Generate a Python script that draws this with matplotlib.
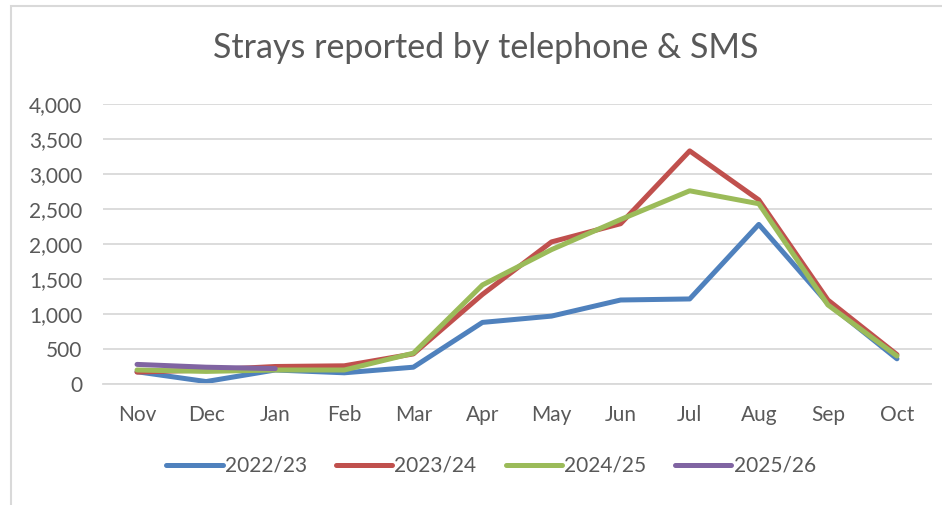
import matplotlib
matplotlib.use("Agg")
import matplotlib.pyplot as plt
from matplotlib.patches import Rectangle
from matplotlib.ticker import FuncFormatter

months = ["Nov", "Dec", "Jan", "Feb", "Mar", "Apr", "May", "Jun", "Jul", "Aug", "Sep", "Oct"]
s2022 = [175, 35, 200, 160, 240, 880, 970, 1200, 1215, 2280, 1150, 360]
s2023 = [170, 200, 250, 260, 430, 1280, 2030, 2290, 3330, 2630, 1200, 420]
s2024 = [200, 180, 200, 200, 440, 1415, 1920, 2350, 2760, 2575, 1130, 400]
s2025 = [280, 240, 220]
series = [("2022/23", s2022, "#4F81BD"),
          ("2023/24", s2023, "#C0504D"),
          ("2024/25", s2024, "#9BBB59"),
          ("2025/26", s2025, "#8064A2")]

plt.rcParams['font.family'] = ['Lato', 'DejaVu Sans']
txt = "#595959"
grid = "#D9D9D9"

fig = plt.figure(figsize=(9.42, 5.05), dpi=100)
# chart frame (only left and top edges fall inside the picture)
fig.patches.append(Rectangle((11/942, -0.1), 1.0, 1.1 - 6/505, transform=fig.transFigure,
                             fill=False, edgecolor="#D9D9D9", linewidth=1.5))

ax = fig.add_axes([102.5/942, 1 - 384/505, 829/942, 280/505])
for label, vals, col in series:
    ax.plot(range(len(vals)), vals, color=col, linewidth=3.6, label=label,
            solid_capstyle="round", solid_joinstyle="round")

ax.set_xlim(-0.5, 11.5)
ax.set_ylim(0, 4000)
ax.set_xticks(range(len(months)))
ax.set_xticklabels(months)
ax.set_yticks(range(0, 4001, 500))
ax.yaxis.set_major_formatter(FuncFormatter(lambda v, p: f"{int(v):,}"))
ax.tick_params(length=0, labelsize=15, labelcolor=txt)
ax.tick_params(axis="y", pad=14.5)
ax.tick_params(axis="x", pad=15)
ax.grid(axis="y", color=grid, linewidth=1.3)
ax.set_axisbelow(True)
for s in ["top", "right", "left"]:
    ax.spines[s].set_visible(False)
ax.spines["bottom"].set_color(grid)
ax.spines["bottom"].set_linewidth(1.3)

fig.text(486/942, 1 - 48/505, "Strays reported by telephone & SMS", ha="center", va="center",
         fontsize=24.5, color=txt)

leg = fig.legend(loc="center", bbox_to_anchor=(491/942, 1 - 466/505), ncol=4, frameon=False,
                 fontsize=15, handlelength=2.7, handletextpad=0.1, columnspacing=1.4)
for t in leg.get_texts():
    t.set_color(txt)
for h in leg.get_lines():
    h.set_linewidth(3.6)

fig.savefig("out.png", dpi=100)
